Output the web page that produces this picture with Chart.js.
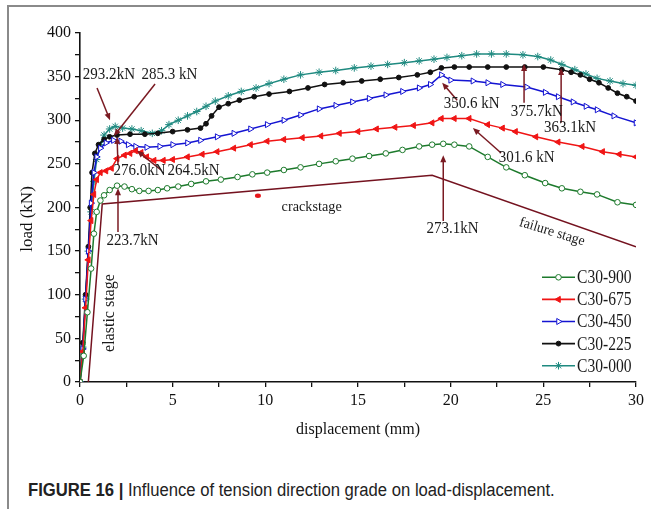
<!DOCTYPE html>
<html>
<head>
<meta charset="utf-8">
<script src="https://cdn.jsdelivr.net/npm/chart.js@4.4.1/dist/chart.umd.min.js"></script>
<style>
  html, body { margin: 0; padding: 0; background: #fff; }
  body { width: 651px; height: 509px; position: relative; overflow: hidden; }
  #frame {
    position: absolute; left: 7px; top: 5px; width: 650px; height: 510px;
    border-top: 2px solid #8a8a8a; border-left: 2px solid #8a8a8a;
  }
  #wrap { position: absolute; left: 0; top: 0; width: 651px; height: 450px; }
  #caption {
    position: absolute; left: 28px; top: 480px; white-space: nowrap;
    font-family: "Liberation Sans", Arial, sans-serif; font-size: 18px; color: #222;
    transform: scaleX(0.925); transform-origin: 0 0;
  }
  #caption b { font-weight: bold; }
</style>
</head>
<body>
<div id="frame"></div>
<div id="wrap"><canvas id="loadChart"></canvas></div>
<div id="caption"><b>FIGURE 16 |</b> Influence of tension direction grade on load-displacement.</div>

<script>
// load-displacement curves, values (mm, kN)

const seriesNames = ["C30-900", "C30-675", "C30-450", "C30-225", "C30-000"];

const disp900 = [0, 0.2, 0.4, 0.6, 0.75, 0.9, 1.1, 1.3, 1.6, 2.0, 2.4, 2.8, 3.2, 3.7, 4.2, 4.7, 5.3, 6.0, 6.8, 7.6, 8.5, 9.3, 10.1, 11.0, 11.9, 12.9, 13.8, 14.7, 15.6, 16.5, 17.4, 18.3, 19.0, 19.6, 20.2, 21.0, 22.0, 23.0, 24.0, 25.1, 26.0, 27.0, 27.9, 29.0, 30];
const load900 = [0, 30, 80, 130, 170, 195, 208, 214, 220, 225, 224, 221, 219, 219, 220, 222, 224, 227, 230, 232, 235, 238, 240, 243, 246, 250, 253, 256, 259, 262, 266, 270, 272, 273, 272, 270, 258, 246, 237, 228, 222, 218, 215, 206, 203];

const disp675 = [0, 0.15, 0.3, 0.45, 0.6, 0.75, 0.9, 1.1, 1.4, 1.7, 2.0, 2.4, 2.7, 3.0, 3.3, 3.6, 4.0, 4.5, 5.0, 5.8, 6.6, 7.4, 8.3, 9.2, 10.1, 11.0, 12.0, 13.0, 14.0, 15.0, 16.0, 17.0, 18.0, 19.0, 19.5, 20.2, 21.0, 22.0, 22.8, 23.5, 24.6, 25.8, 27.1, 28.2, 29.1, 30];
const load675 = [0, 35, 85, 140, 185, 215, 232, 240, 242, 245, 256, 260, 262, 265, 263, 258, 254, 254, 255, 258, 261, 264, 268, 272, 276, 278, 280, 282, 285, 287, 290, 292, 294, 297, 302, 302, 302, 295, 291, 287, 281, 275, 270, 264, 261, 258];

const disp450 = [0, 0.15, 0.3, 0.45, 0.6, 0.75, 0.9, 1.1, 1.4, 1.8, 2.2, 2.6, 3.0, 3.6, 4.3, 5.0, 5.8, 6.5, 7.4, 8.3, 9.2, 10.1, 11.0, 11.9, 12.9, 13.8, 14.7, 15.6, 16.5, 17.4, 18.3, 18.9, 19.5, 20.0, 21.2, 22.0, 22.8, 24.1, 25.1, 25.8, 26.6, 27.3, 27.9, 28.8, 30];
const load450 = [0, 38, 95, 150, 205, 240, 258, 268, 274, 277, 276, 272, 270, 269, 270, 272, 274, 277, 281, 285, 290, 295, 300, 306, 313, 317, 321, 325, 329, 333, 337, 341, 352, 346, 345, 343, 341, 338, 332, 327, 321, 316, 312, 305, 297];

const disp225 = [0, 0.15, 0.3, 0.45, 0.55, 0.65, 0.8, 1.0, 1.3, 1.6, 2.0, 2.7, 3.5, 4.2, 5.0, 5.8, 6.5, 6.8, 7.1, 7.5, 8.0, 8.6, 9.4, 10.2, 11.3, 12.3, 13.2, 14.2, 15.2, 16.2, 17.2, 18.2, 18.9, 19.5, 20.2, 21.0, 22.0, 23.0, 24.0, 25.0, 26.0, 26.5, 27.0, 27.5, 28.0, 28.5, 29.0, 29.5, 30];
const load225 = [0, 45, 100, 155, 200, 240, 262, 272, 278, 281, 283, 284, 284, 285, 287, 289, 291, 296, 305, 315, 319, 323, 327, 330, 333, 337, 341, 343, 345, 347, 349, 352, 355, 360, 361, 361, 361, 361, 361, 361, 358, 355, 352, 347, 343, 337, 331, 327, 322];

const disp000 = [0, 0.15, 0.3, 0.45, 0.6, 0.75, 0.9, 1.1, 1.3, 1.6, 1.9, 2.3, 2.8, 3.3, 3.9, 4.4, 4.8, 5.3, 5.8, 6.3, 6.8, 7.3, 8.0, 8.7, 9.5, 10.2, 11.0, 11.9, 12.9, 13.8, 14.8, 15.7, 16.6, 17.5, 18.3, 19.1, 19.8, 20.6, 21.4, 22.2, 23.0, 23.9, 24.7, 25.4, 26.0, 26.7, 27.3, 27.9, 28.6, 29.3, 30];
const load000 = [0, 40, 95, 150, 195, 230, 255, 272, 283, 290, 293, 291, 290, 288, 285, 288, 295, 300, 305, 310, 316, 322, 328, 333, 337, 342, 347, 352, 355, 357, 360, 362, 364, 366, 368, 370, 372, 374, 376, 376, 376, 375, 373, 369, 364, 358, 353, 348, 345, 342, 340];

// idealised stage line (elastic / crack / failure)
const stageDisp = [0.45, 1.2, 19.0, 30];
const stageLoad = [0, 204, 237, 155];

// peak annotations: text, label position (mm, kN), arrow from -> to (mm, kN)
const peakText = ["293.2kN", "285.3 kN", "276.0kN", "264.5kN", "223.7kN", "350.6 kN", "375.7kN", "363.1kN", "301.6 kN", "273.1kN"];
const peakLabelAt = [[1.56, 352], [4.83, 352], [3.21, 242], [6.13, 242], [2.83, 162], [21.13, 319.4], [24.65, 309.8], [26.44, 291.9], [24.1, 257.5], [20.1, 175.4]];
const peakArrows = [
  [0.92, 337, 1.62, 300],
  [4.05, 341.5, 1.83, 282],
  [2.05, 248.7, 2.0, 281],
  [4.37, 243, 3.08, 265],
  [2.05, 172, 2.05, 222],
  [20.35, 323, 19.54, 343],
  [23.96, 320, 23.96, 364.5],
  [25.96, 297, 25.96, 360],
  [22.72, 262.5, 21.2, 291],
  [19.6, 184.5, 19.6, 260]
];

const xTicks = [0, 5, 10, 15, 20, 25, 30];
const yTicks = [0, 50, 100, 150, 200, 250, 300, 350, 400];

const SERIF = '"Liberation Serif", "Times New Roman", serif';
const arrowColor = "#7a1a22";

const looks = [
  { color: "#1d7a2c", style: "circle", rot: 0, r: 2.8, fill: "#fff" },
  { color: "#f01515", style: "triangle", rot: -90, r: 3.5, fill: "#f01515" },
  { color: "#1414d2", style: "triangle", rot: 90, r: 3.5, fill: "#fff" },
  { color: "#111111", style: "circle", rot: 0, r: 2.4, fill: "#111111" },
  { color: "#1f8a80", style: "star", rot: 0, r: 3.8, fill: "#1f8a80" }
];

const dispAll = [disp900, disp675, disp450, disp225, disp000];
const loadAll = [load900, load675, load450, load225, load000];

function pairs(xs, ys) {
  return xs.map((v, i) => ({ x: v, y: ys[i] }));
}

const datasets = seriesNames.map((name, i) => ({
  label: name,
  data: pairs(dispAll[i], loadAll[i]),
  borderColor: looks[i].color,
  backgroundColor: looks[i].fill,
  pointBorderColor: looks[i].color,
  pointBackgroundColor: looks[i].fill,
  pointStyle: looks[i].style,
  pointRotation: looks[i].rot,
  pointRadius: looks[i].r,
  pointBorderWidth: 1,
  borderWidth: 1.5,
  showLine: true,
  tension: 0
}));

datasets.push({
  label: "stage",
  data: pairs(stageDisp, stageLoad),
  borderColor: "#74121f",
  borderWidth: 1.5,
  pointRadius: 0,
  showLine: true,
  tension: 0
});

function arrow(ctx, x1, y1, x2, y2) {
  const ang = Math.atan2(y2 - y1, x2 - x1);
  const head = 7, half = 3;
  ctx.beginPath();
  ctx.moveTo(x1, y1);
  ctx.lineTo(x2 - Math.cos(ang) * head * 0.8, y2 - Math.sin(ang) * head * 0.8);
  ctx.stroke();
  ctx.beginPath();
  ctx.moveTo(x2, y2);
  ctx.lineTo(x2 - Math.cos(ang) * head - Math.sin(ang) * half, y2 - Math.sin(ang) * head + Math.cos(ang) * half);
  ctx.lineTo(x2 - Math.cos(ang) * head + Math.sin(ang) * half, y2 - Math.sin(ang) * head - Math.cos(ang) * half);
  ctx.closePath();
  ctx.fill();
}

function squeezedText(ctx, text, x, y, sx, rot) {
  ctx.save();
  ctx.translate(x, y);
  if (rot) ctx.rotate(rot * Math.PI / 180);
  ctx.scale(sx, 1);
  ctx.fillText(text, 0, 0);
  ctx.restore();
}

const overlay = {
  id: "overlay",
  afterDatasetsDraw(chart) {
    const ctx = chart.ctx;
    const xs = chart.scales.x, ys = chart.scales.y;
    const px = v => xs.getPixelForValue(v);
    const py = v => ys.getPixelForValue(v);
    const area = chart.chartArea;

    ctx.save();
    // arrows pointing at the peaks
    ctx.strokeStyle = arrowColor;
    ctx.fillStyle = arrowColor;
    ctx.lineWidth = 1.5;
    peakArrows.forEach(a => arrow(ctx, px(a[0]), py(a[1]), px(a[2]), py(a[3])));

    // peak labels
    ctx.fillStyle = "#1a1a1a";
    ctx.font = "16.5px " + SERIF;
    ctx.textAlign = "center";
    ctx.textBaseline = "middle";
    peakText.forEach((t, i) => squeezedText(ctx, t, px(peakLabelAt[i][0]), py(peakLabelAt[i][1]), 0.91, 0));

    // stage labels
    ctx.font = "15px " + SERIF;
    squeezedText(ctx, "crackstage", px(12.5), py(201), 0.95, 0);
    ctx.font = "14.5px " + SERIF;
    squeezedText(ctx, "failure stage", px(25.47), py(172), 0.95, 17);
    ctx.font = "16px " + SERIF;
    squeezedText(ctx, "elastic stage", px(1.62), py(79), 1, -90);

    // small red blob on the crack stage
    ctx.fillStyle = "#e8161b";
    ctx.beginPath();
    ctx.ellipse(px(9.6), py(213.5), 3, 2.2, 0, 0, Math.PI * 2);
    ctx.fill();

    // axis titles
    ctx.fillStyle = "#111";
    ctx.font = "17px " + SERIF;
    squeezedText(ctx, "load (kN)", 28, 219, 1, -90);
    ctx.font = "16.5px " + SERIF;
    squeezedText(ctx, "displacement (mm)", (area.left + area.right) / 2, 430, 0.97, 0);

    // legend
    const lx0 = area.right - 94, lx1 = area.right - 61;
    ctx.textAlign = "left";
    ctx.font = "19px " + SERIF;
    seriesNames.forEach((name, i) => {
      const ly = 277.3 + i * 22.1;
      const lk = looks[i];
      ctx.strokeStyle = lk.color;
      ctx.lineWidth = 1.6;
      ctx.beginPath();
      ctx.moveTo(lx0, ly);
      ctx.lineTo(lx1, ly);
      ctx.stroke();
      ctx.fillStyle = lk.fill;
      ctx.lineWidth = 1;
      if (Chart.helpers && Chart.helpers.drawPoint) {
        Chart.helpers.drawPoint(ctx, { pointStyle: lk.style, rotation: lk.rot, radius: lk.r, borderWidth: 1 }, (lx0 + lx1) / 2, ly);
      }
      ctx.fillStyle = "#1a1a1a";
      squeezedText(ctx, name, lx1 + 2, ly + 1, 0.82, 0);
    });
    ctx.restore();
  }
};

new Chart(document.getElementById("loadChart"), {
  type: "scatter",
  data: { datasets: datasets },
  options: {
    responsive: true,
    maintainAspectRatio: false,
    animation: false,
    devicePixelRatio: 1,
    layout: { padding: { left: 0, right: 15, top: 33, bottom: 0 } },
    plugins: {
      legend: { display: false },
      tooltip: { enabled: false }
    },
    scales: {
      x: {
        type: "linear",
        min: 0,
        max: 30,
        afterFit: s => { s.height = 68; },
        afterBuildTicks: s => { s.ticks = [...Array(13).keys()].map(k => ({ value: k * 2.5 })); },
        ticks: {
          autoSkip: false,
          maxRotation: 0,
          padding: 4,
          color: "#111",
          font: { family: SERIF, size: 16 },
          callback: v => (xTicks.includes(v) ? String(v) : "")
        },
        grid: { drawOnChartArea: false, tickLength: 5, color: "#111", lineWidth: 1.3 },
        border: { color: "#111", width: 1.6 }
      },
      y: {
        type: "linear",
        min: 0,
        max: 400,
        afterFit: s => { s.width = 80; },
        afterBuildTicks: s => { s.ticks = [...Array(17).keys()].map(k => ({ value: k * 25 })); },
        ticks: {
          autoSkip: false,
          padding: 4,
          color: "#111",
          font: { family: SERIF, size: 16 },
          callback: v => (yTicks.includes(v) ? String(v) : "")
        },
        grid: { drawOnChartArea: false, tickLength: 5, color: "#111", lineWidth: 1.3 },
        border: { color: "#111", width: 1.6 }
      }
    }
  },
  plugins: [overlay]
});
</script>
</body>
</html>
